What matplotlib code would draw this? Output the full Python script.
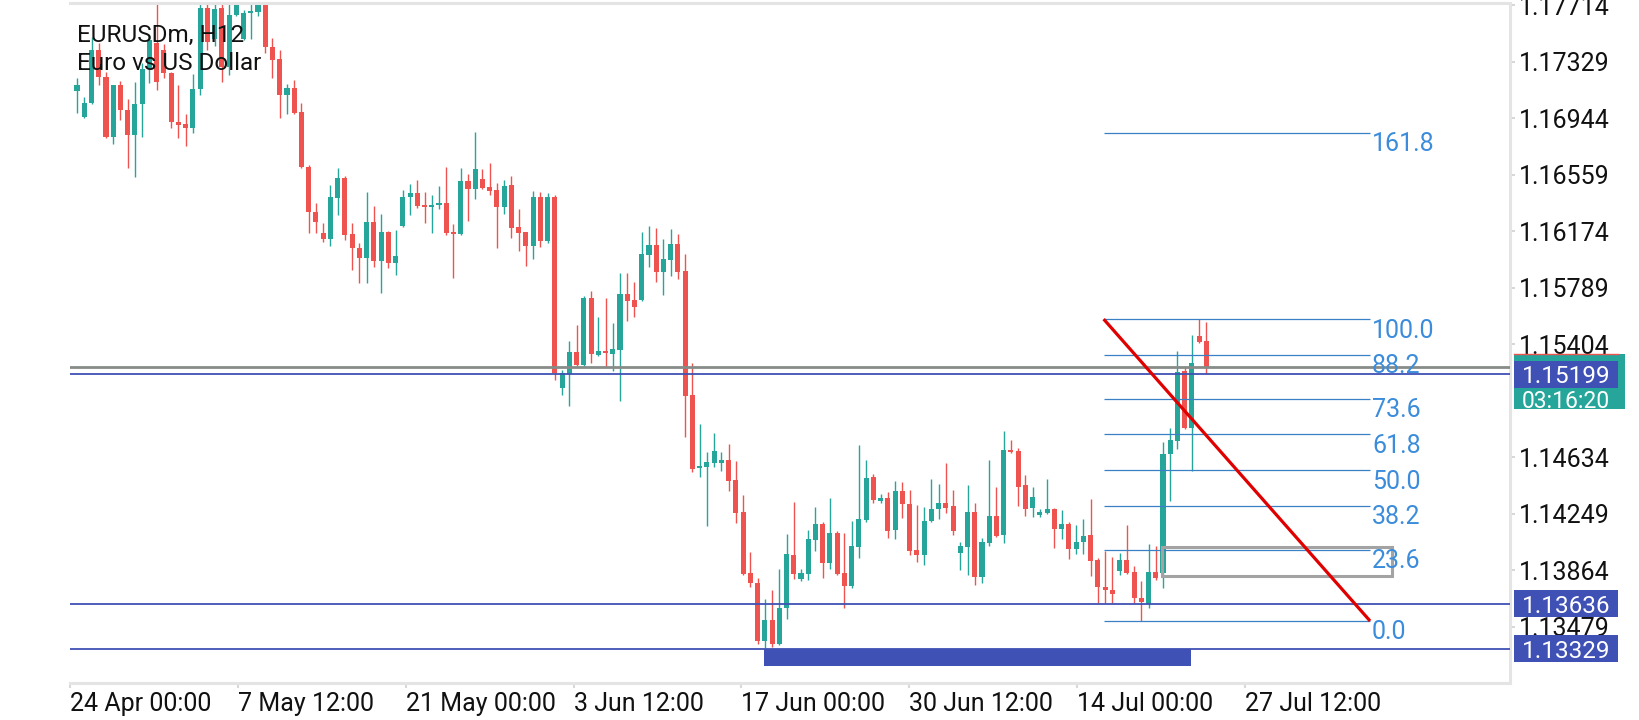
import matplotlib
matplotlib.use('Agg')
import matplotlib.pyplot as plt
import matplotlib.transforms as mtransforms
from matplotlib.patches import Rectangle
import numpy as np

plt.rcParams['font.family'] = ['Roboto', 'DejaVu Sans']

# EURUSDm H12 candles, oldest first
opens = [
    1.17130, 1.16952, 1.17048, 1.17409, 1.17225, 1.16816, 1.17171, 1.17000, 1.16830, 1.17041,
    1.17280, 1.17457, 1.17409, 1.17252, 1.16918, 1.16905, 1.16877, 1.17143, 1.17695, 1.17484,
    1.17695, 1.17293, 1.17648, 1.17484, 1.17661, 1.17668, 1.17745, 1.17430, 1.17348, 1.17102,
    1.17150, 1.16986, 1.16612, 1.16305, 1.16162, 1.16121, 1.16400, 1.16537, 1.16155, 1.16059,
    1.15991, 1.16237, 1.15971, 1.16168, 1.15957, 1.16209, 1.16407, 1.16434, 1.16352, 1.16339,
    1.16352, 1.16366, 1.16168, 1.16155, 1.16516, 1.16462, 1.16530, 1.16475, 1.16455, 1.16339,
    1.16489, 1.16203, 1.16168, 1.16073, 1.16407, 1.16107, 1.16407, 1.15105, 1.15200, 1.15350,
    1.15262, 1.15719, 1.15330, 1.15357, 1.15337, 1.15364, 1.15746, 1.15705, 1.15705, 1.16012,
    1.16080, 1.15896, 1.15978, 1.16087, 1.15903, 1.15057, 1.14560, 1.14567, 1.14594, 1.14594,
    1.14614, 1.14478, 1.14260, 1.13844, 1.13776, 1.13380, 1.13523, 1.13360, 1.13605, 1.13966,
    1.13803, 1.13837, 1.14069, 1.14178, 1.13912, 1.14116, 1.13844, 1.13755, 1.14021, 1.14205,
    1.14498, 1.14335, 1.14355, 1.14137, 1.14403, 1.14314, 1.14001, 1.13966, 1.14198, 1.14280,
    1.14321, 1.14301, 1.13980, 1.14021, 1.14260, 1.13816, 1.14048, 1.14232, 1.14103, 1.14682,
    1.14676, 1.14444, 1.14287, 1.14239, 1.14253, 1.14280, 1.14144, 1.14178, 1.14007, 1.14055,
    1.14103, 1.13932, 1.13748, 1.13728, 1.13857, 1.13932, 1.13850, 1.13673, 1.13633, 1.13850,
    1.13844, 1.14655, 1.14744, 1.15221, 1.14832, 1.15460, 1.15425,
]
highs = [
    1.17218, 1.17089, 1.17498, 1.17457, 1.17259, 1.17171, 1.17198, 1.17075, 1.17191, 1.17321,
    1.17511, 1.17730, 1.17450, 1.17260, 1.17171, 1.16973, 1.17246, 1.17780, 1.17780, 1.17723,
    1.17780, 1.17780, 1.17780, 1.17682, 1.17723, 1.17780, 1.17780, 1.17491, 1.17409, 1.17177,
    1.17205, 1.17048, 1.16625, 1.16366, 1.16230, 1.16489, 1.16605, 1.16550, 1.16230, 1.16093,
    1.16441, 1.16346, 1.16291, 1.16175, 1.16182, 1.16455, 1.16496, 1.16523, 1.16441, 1.16421,
    1.16482, 1.16612, 1.16223, 1.16605, 1.16564, 1.16850, 1.16598, 1.16639, 1.16502, 1.16523,
    1.16550, 1.16325, 1.16172, 1.16448, 1.16441, 1.16434, 1.16421, 1.15227, 1.15425, 1.15534,
    1.15732, 1.15766, 1.15589, 1.15719, 1.15548, 1.15889, 1.15889, 1.15828, 1.16168, 1.16209,
    1.16196, 1.16121, 1.16189, 1.16155, 1.16018, 1.15275, 1.14859, 1.14669, 1.14798, 1.14669,
    1.14723, 1.14607, 1.14376, 1.13987, 1.13810, 1.13667, 1.13728, 1.13871, 1.14110, 1.14328,
    1.13871, 1.14137, 1.14294, 1.14191, 1.14355, 1.14130, 1.14116, 1.14198, 1.14716, 1.14614,
    1.14519, 1.14382, 1.14396, 1.14471, 1.14464, 1.14410, 1.14307, 1.14294, 1.14485, 1.14451,
    1.14594, 1.14410, 1.14055, 1.14444, 1.14321, 1.14082, 1.14614, 1.14430, 1.14812, 1.14751,
    1.14696, 1.14512, 1.14430, 1.14280, 1.14485, 1.14287, 1.14273, 1.14191, 1.14171, 1.14212,
    1.14348, 1.13946, 1.13994, 1.13953, 1.13980, 1.14171, 1.13891, 1.13789, 1.14042, 1.14028,
    1.14737, 1.14832, 1.15357, 1.15248, 1.15466, 1.15575, 1.15555,
]
lows = [
    1.16980, 1.16945, 1.17041, 1.17171, 1.16810, 1.16768, 1.16932, 1.16605, 1.16543, 1.16816,
    1.17184, 1.17136, 1.17218, 1.16877, 1.16809, 1.16755, 1.16843, 1.17102, 1.17409, 1.17436,
    1.17191, 1.17239, 1.17641, 1.17477, 1.17484, 1.17641, 1.17389, 1.17218, 1.16946, 1.16973,
    1.16975, 1.16605, 1.16162, 1.16162, 1.16100, 1.16073, 1.16284, 1.16114, 1.15909, 1.15821,
    1.15821, 1.15930, 1.15753, 1.15923, 1.15875, 1.16200, 1.16284, 1.16335, 1.16230, 1.16162,
    1.16325, 1.16148, 1.15855, 1.16148, 1.16243, 1.16393, 1.16465, 1.16421, 1.16059, 1.16291,
    1.16128, 1.16039, 1.15937, 1.15984, 1.16066, 1.16093, 1.15160, 1.15057, 1.14982, 1.15255,
    1.15255, 1.15275, 1.15323, 1.15248, 1.15221, 1.15016, 1.15562, 1.15589, 1.15700, 1.15930,
    1.15828, 1.15739, 1.15869, 1.15848, 1.14771, 1.14533, 1.14498, 1.14164, 1.14567, 1.14539,
    1.14403, 1.14185, 1.13830, 1.13748, 1.13360, 1.13332, 1.13339, 1.13353, 1.13530, 1.13803,
    1.13789, 1.13796, 1.13994, 1.13810, 1.13871, 1.13832, 1.13605, 1.13742, 1.13946, 1.14191,
    1.14321, 1.14321, 1.14082, 1.14076, 1.14219, 1.13966, 1.13919, 1.13898, 1.14191, 1.14212,
    1.14253, 1.14103, 1.13864, 1.13830, 1.13762, 1.13776, 1.14028, 1.14089, 1.14048, 1.14662,
    1.14301, 1.14232, 1.14226, 1.14226, 1.14246, 1.14014, 1.14076, 1.13939, 1.13973, 1.13973,
    1.13823, 1.13639, 1.13639, 1.13639, 1.13830, 1.13837, 1.13639, 1.13517, 1.13605, 1.13796,
    1.13742, 1.14335, 1.14689, 1.14825, 1.14539, 1.15412, 1.15200,
]
closes = [
    1.17171, 1.17048, 1.17409, 1.17225, 1.16816, 1.17171, 1.17000, 1.16830, 1.17041, 1.17280,
    1.17477, 1.17191, 1.17252, 1.16918, 1.16898, 1.16877, 1.17143, 1.17695, 1.17464, 1.17689,
    1.17293, 1.17648, 1.17745, 1.17661, 1.17675, 1.17745, 1.17430, 1.17341, 1.17102, 1.17150,
    1.16980, 1.16612, 1.16305, 1.16237, 1.16121, 1.16407, 1.16537, 1.16148, 1.16059, 1.15991,
    1.16237, 1.15971, 1.16168, 1.15957, 1.16005, 1.16407, 1.16434, 1.16346, 1.16339, 1.16352,
    1.16366, 1.16162, 1.16158, 1.16516, 1.16462, 1.16598, 1.16468, 1.16448, 1.16339, 1.16482,
    1.16196, 1.16162, 1.16073, 1.16407, 1.16107, 1.16407, 1.15207, 1.15207, 1.15350, 1.15262,
    1.15719, 1.15337, 1.15357, 1.15344, 1.15371, 1.15746, 1.15698, 1.15657, 1.16018, 1.16080,
    1.15896, 1.15984, 1.16087, 1.15896, 1.15050, 1.14553, 1.14573, 1.14601, 1.14676, 1.14614,
    1.14471, 1.14253, 1.13837, 1.13776, 1.13380, 1.13523, 1.13360, 1.13605, 1.13973, 1.13837,
    1.13844, 1.14076, 1.14178, 1.13912, 1.14116, 1.13837, 1.13755, 1.14028, 1.14212, 1.14491,
    1.14341, 1.14355, 1.14130, 1.14403, 1.14314, 1.13994, 1.13966, 1.14198, 1.14280, 1.14321,
    1.14287, 1.14130, 1.14028, 1.14260, 1.13816, 1.14055, 1.14232, 1.14096, 1.14682, 1.14669,
    1.14430, 1.14280, 1.14362, 1.14260, 1.14280, 1.14144, 1.14178, 1.14007, 1.14055, 1.14096,
    1.13925, 1.13748, 1.13728, 1.13701, 1.13932, 1.13844, 1.13673, 1.13646, 1.13850, 1.13810,
    1.14655, 1.14751, 1.15214, 1.14832, 1.15275, 1.15419, 1.15248,
]

# price scale and time scale labels
price_ticks = [1.17714, 1.17329, 1.16944, 1.16559, 1.16174, 1.15789, 1.15404,
               1.14634, 1.14249, 1.13864, 1.13479]
time_tick_pos = [-0.97, 22.2, 45.4, 68.6, 91.7, 114.9, 138.1, 161.3]
time_labels = ['24 Apr 00:00', '7 May 12:00', '21 May 00:00', '3 Jun 12:00',
               '17 Jun 00:00', '30 Jun 12:00', '14 Jul 00:00', '27 Jul 12:00']

# drawn objects
hlines_levels = [1.15199, 1.13636, 1.13329]
bid_price = 1.15248
fib_low, fib_high = 1.13517, 1.15575
fib_x = [141.8, 178.6]
fib_levels = [0.0, 23.6, 38.2, 50.0, 61.8, 73.6, 88.2, 100.0, 161.8]
zone_x = [149.8, 181.7]
zone_prices = [1.13823, 1.14021]
base_x = [94.9, 153.8]
base_prices = [1.13210, 1.13329]
countdown = '03:16:20'

TEAL = '#26a69a'
RED = '#ef5350'
INDIGO = '#3f51b5'
FIB_LINE = '#3a80c4'
FIB_TEXT = '#3b8cdb'
BORDER = '#e4e4e4'
FS = 18

fig = plt.figure(figsize=(16.4, 7.2), dpi=100)
ax = fig.add_axes([70 / 1640, 36.7 / 720, 1440 / 1640, 680.6 / 720])
ax.set_xlim(-0.69, 197.93)
ax.set_ylim(1.13092, 1.17732)

o = np.array(opens)
h = np.array(highs)
l = np.array(lows)
c = np.array(closes)
x = np.arange(len(o))
cols = np.where(c >= o, TEAL, RED)

# candles
ax.vlines(x, l, h, colors=cols, linewidth=1.0, zorder=2)
ax.bar(x, np.maximum(np.abs(c - o), 0.00003), bottom=np.minimum(o, c), width=0.7,
       color=cols, linewidth=0, zorder=2)

# horizontal levels
for lv in hlines_levels:
    ax.axhline(lv, color=INDIGO, linewidth=1.3, zorder=3)
ax.axhline(bid_price, color='#868c88', linewidth=2.0, zorder=3)

# fibonacci
rng = fib_high - fib_low
for lv in fib_levels:
    yv = fib_low + rng * lv / 100.0
    ax.hlines(yv, fib_x[0], fib_x[1], color=FIB_LINE, linewidth=0.9, zorder=3)
    ax.annotate('%.1f' % lv, (fib_x[1], yv), xytext=(2, -18.5), textcoords='offset pixels',
                ha='left', va='baseline', color=FIB_TEXT, fontsize=FS, zorder=4)
ax.plot(fib_x, [fib_high, fib_low], color='#e00000', linewidth=2.3, zorder=4,
        solid_capstyle='butt')

# rectangles
ax.add_patch(Rectangle((zone_x[0], zone_prices[0]), zone_x[1] - zone_x[0],
                       zone_prices[1] - zone_prices[0], fill=False,
                       edgecolor='#a3a3a3', linewidth=2.2, zorder=3))
ax.add_patch(Rectangle((base_x[0], base_prices[0]), base_x[1] - base_x[0],
                       base_prices[1] - base_prices[0], facecolor=INDIGO,
                       edgecolor='none', zorder=3))

# axes frame
for side in ['top', 'right', 'bottom']:
    ax.spines[side].set_color(BORDER)
    ax.spines[side].set_linewidth(2.2)
ax.spines['left'].set_visible(False)

ax.yaxis.tick_right()
ax.set_yticks(price_ticks)
ax.set_yticklabels(['%.5f' % p for p in price_ticks])
ax.tick_params(axis='y', length=3.6, width=1.2, color='#d0d0d0', pad=3,
               labelsize=FS, labelcolor='#111111')
ax.set_xticks(time_tick_pos)
ax.set_xticklabels(time_labels, ha='left')
ax.tick_params(axis='x', length=3.6, width=1.5, color='#d8d8d8', pad=3.0,
               labelsize=FS, labelcolor='#111111')

# price tags on the right scale
tr = mtransforms.blended_transform_factory(ax.transAxes, ax.transData)
px = 0.0000682
ax.add_patch(Rectangle((1.00278, bid_price + 0.00089 - 55 * px), 0.0771, 55 * px,
                       transform=tr, facecolor=TEAL, edgecolor='none',
                       clip_on=False, zorder=5))
ax.plot([1.00278, 1.0750], [bid_price + 0.00089] * 2, transform=tr, color=RED,
        linewidth=1.0, clip_on=False, zorder=6)
ax.text(1.0083, bid_price - 0.00278, countdown, transform=tr, color='white',
        fontsize=16.5, va='baseline', ha='left', clip_on=False, zorder=7)
for lv in hlines_levels:
    ax.add_patch(Rectangle((1.00278, lv - 0.00092), 0.0722, 0.00184, transform=tr,
                           facecolor=INDIGO, edgecolor='none', clip_on=False, zorder=6))
    ax.text(1.0083, lv, '%.5f' % lv, transform=tr, color='white', fontsize=17.5,
            va='center_baseline', ha='left', clip_on=False, zorder=7)

# title
fig.text(77 / 1640, 1 - 42 / 720, 'EURUSDm, H12', fontsize=17.5, color='#111111',
         va='baseline', zorder=10)
fig.text(77 / 1640, 1 - 70 / 720, 'Euro vs US Dollar', fontsize=17.5, color='#111111',
         va='baseline', zorder=10)

fig.savefig('out.png', dpi=100, facecolor='white')
